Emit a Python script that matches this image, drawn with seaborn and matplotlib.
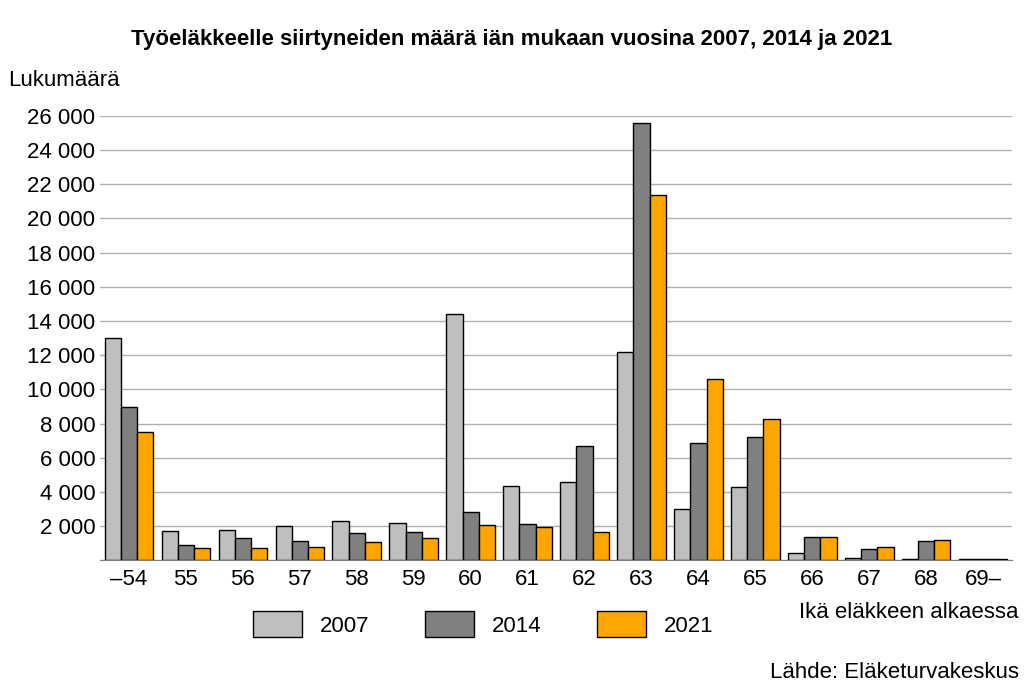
import numpy as np
import pandas as pd
import seaborn as sns
import matplotlib.pyplot as plt

ages = ["–54", "55", "56", "57", "58", "59", "60", "61", "62", "63", "64", "65", "66", "67", "68", "69–"]
v2007 = [13000, 1700, 1800, 2000, 2300, 2200, 14400, 4350, 4600, 12200, 3000, 4300, 400, 150, 100, 50]
v2014 = [8950, 900, 1300, 1100, 1600, 1650, 2850, 2100, 6700, 25600, 6850, 7200, 1350, 650, 1150, 100]
v2021 = [7500, 700, 700, 800, 1050, 1300, 2050, 1950, 1650, 21400, 10600, 8250, 1350, 750, 1200, 100]
years = ["2007", "2014", "2021"]

df = pd.DataFrame({"age": ages * 3,
                   "year": [y for y in years for _ in ages],
                   "value": v2007 + v2014 + v2021})

plt.rcParams["font.family"] = "Liberation Sans"
fig = plt.figure(figsize=(10.24, 6.9), dpi=100)
ax = fig.add_axes([0.098, 0.188, 0.89, 0.644])

sns.barplot(data=df, x="age", y="value", hue="year", ax=ax,
            palette=["#bfbfbf", "#808080", "#ffa500"], width=0.85,
            edgecolor="black", linewidth=1, saturation=1, zorder=3)

ax.set_ylim(0, 26000)
ax.set_xlim(-0.5, len(ages) - 0.5)
ticks = np.arange(0, 26001, 2000)
ax.set_yticks(ticks)
ax.set_yticklabels([f"{t:,}".replace(",", " ") if t else "" for t in ticks])
ax.grid(axis="y", color="#b0b0b0", linewidth=1, zorder=0)
ax.tick_params(axis="both", labelsize=16, length=0)
ax.tick_params(axis="x", pad=6)
for s in ["top", "right", "left"]:
    ax.spines[s].set_visible(False)
ax.spines["bottom"].set_color("#808080")
ax.set_xlabel("")
ax.set_ylabel("")

ax.legend(loc="upper center", bbox_to_anchor=(0.42, -0.07), ncol=3, frameon=False,
          fontsize=16, handlelength=2.2, handleheight=1.4, columnspacing=2.5)

fig.text(0.5, 0.935, "Työeläkkeelle siirtyneiden määrä iän mukaan vuosina 2007, 2014 ja 2021",
         ha="center", fontsize=16, fontweight="bold")
fig.text(0.008, 0.875, "Lukumäärä", fontsize=16)
fig.text(0.995, 0.105, "Ikä eläkkeen alkaessa", ha="right", fontsize=16)
fig.text(0.995, 0.018, "Lähde: Eläketurvakeskus", ha="right", fontsize=16)

fig.savefig("out.png", dpi=100)
